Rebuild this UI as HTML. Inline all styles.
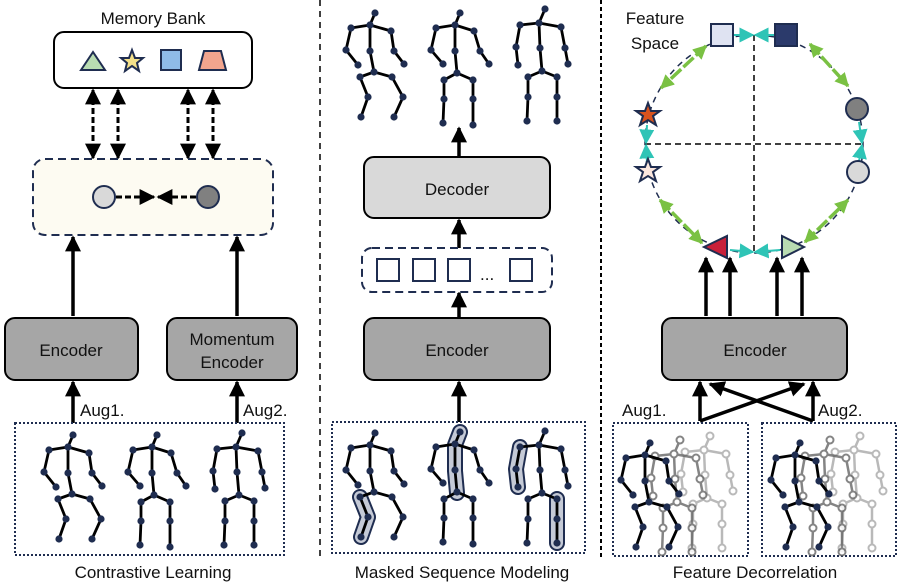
<!DOCTYPE html>
<html><head><meta charset="utf-8"><style>
html,body{margin:0;padding:0;background:#fff}
svg{display:block}
text{font-family:"Liberation Sans",sans-serif;fill:#111}
</style></head><body>
<svg width="897" height="583" viewBox="0 0 897 583" xmlns="http://www.w3.org/2000/svg">
<defs>
<marker id="ah" viewBox="0 0 10 10" refX="9" refY="5" markerWidth="16" markerHeight="16" markerUnits="userSpaceOnUse" orient="auto-start-reverse"><path d="M0,0L10,5L0,10z" fill="#000"/></marker>
<marker id="gh" viewBox="0 0 10 10" refX="9" refY="5" markerWidth="14" markerHeight="14" markerUnits="userSpaceOnUse" orient="auto-start-reverse"><path d="M0,0L10,5L0,10z" fill="#7ac143"/></marker>
<marker id="th" viewBox="0 0 10 10" refX="9" refY="5" markerWidth="15" markerHeight="15" markerUnits="userSpaceOnUse" orient="auto"><path d="M0,0L10,5L0,10z" fill="#2ec4b6"/></marker>
<g id="pA" fill="none" stroke="#000" stroke-width="2.8" stroke-linejoin="round">
<polyline points="-17,52 -29,37 -24,15 -5,12 16,18 19,38 29,51"/><polyline points="0,0 -5,12 -5,38 -1,59"/><polyline points="-14,104 -7,84 -15,64 -1,59 17,64 28,84 19,104"/>
<g fill="#1f2d50" stroke="none"><circle cx="0" cy="0" r="3.6"/><circle cx="-5" cy="12" r="3.6"/><circle cx="-24" cy="15" r="3.6"/><circle cx="16" cy="18" r="3.6"/><circle cx="-29" cy="37" r="3.6"/><circle cx="19" cy="38" r="3.6"/><circle cx="-17" cy="52" r="3.6"/><circle cx="29" cy="51" r="3.6"/><circle cx="-5" cy="38" r="3.6"/><circle cx="-1" cy="59" r="3.6"/><circle cx="-15" cy="64" r="3.6"/><circle cx="17" cy="64" r="3.6"/><circle cx="-7" cy="84" r="3.6"/><circle cx="28" cy="84" r="3.6"/><circle cx="-14" cy="104" r="3.6"/><circle cx="19" cy="104" r="3.6"/></g></g>
<g id="pB" fill="none" stroke="#000" stroke-width="2.8" stroke-linejoin="round">
<polyline points="-17,51 -29,37 -24,15 -5,12 14,18 20,38 29,51"/><polyline points="0,0 -5,12 -5,38 -3,60"/><polyline points="-17,110 -16,86 -16,67 -3,60 13,67 13,86 13,112"/>
<g fill="#1f2d50" stroke="none"><circle cx="0" cy="0" r="3.6"/><circle cx="-5" cy="12" r="3.6"/><circle cx="-24" cy="15" r="3.6"/><circle cx="14" cy="18" r="3.6"/><circle cx="-29" cy="37" r="3.6"/><circle cx="20" cy="38" r="3.6"/><circle cx="-17" cy="51" r="3.6"/><circle cx="29" cy="51" r="3.6"/><circle cx="-5" cy="38" r="3.6"/><circle cx="-3" cy="60" r="3.6"/><circle cx="-16" cy="67" r="3.6"/><circle cx="13" cy="67" r="3.6"/><circle cx="-16" cy="86" r="3.6"/><circle cx="13" cy="86" r="3.6"/><circle cx="-17" cy="110" r="3.6"/><circle cx="13" cy="112" r="3.6"/></g></g>
<g id="pC" fill="none" stroke="#000" stroke-width="2.8" stroke-linejoin="round">
<polyline points="-27,56 -29,38 -25,16 -6,14 16,18 20,39 23,55"/><polyline points="0,0 -6,14 -5,39 -3,62"/><polyline points="-18,112 -17,88 -17,68 -3,62 12,68 12,88 12,112"/>
<g fill="#1f2d50" stroke="none"><circle cx="0" cy="0" r="3.6"/><circle cx="-6" cy="14" r="3.6"/><circle cx="-25" cy="16" r="3.6"/><circle cx="16" cy="18" r="3.6"/><circle cx="-29" cy="38" r="3.6"/><circle cx="20" cy="39" r="3.6"/><circle cx="-27" cy="56" r="3.6"/><circle cx="23" cy="55" r="3.6"/><circle cx="-5" cy="39" r="3.6"/><circle cx="-3" cy="62" r="3.6"/><circle cx="-17" cy="68" r="3.6"/><circle cx="12" cy="68" r="3.6"/><circle cx="-17" cy="88" r="3.6"/><circle cx="12" cy="88" r="3.6"/><circle cx="-18" cy="112" r="3.6"/><circle cx="12" cy="112" r="3.6"/></g></g>
<g id="pG" fill="none" stroke="#666" stroke-width="2.5" stroke-linejoin="round">
<polyline points="-27,56 -29,38 -25,16 -6,14 16,18 20,39 23,55"/><polyline points="0,0 -6,14 -5,39 -3,62"/><polyline points="-18,112 -17,88 -17,68 -3,62 12,68 12,88 12,112"/>
<g fill="#fff" stroke-width="2"><circle cx="0" cy="0" r="3.5"/><circle cx="-6" cy="14" r="3.5"/><circle cx="-25" cy="16" r="3.5"/><circle cx="16" cy="18" r="3.5"/><circle cx="-29" cy="38" r="3.5"/><circle cx="20" cy="39" r="3.5"/><circle cx="-27" cy="56" r="3.5"/><circle cx="23" cy="55" r="3.5"/><circle cx="-5" cy="39" r="3.5"/><circle cx="-3" cy="62" r="3.5"/><circle cx="-17" cy="68" r="3.5"/><circle cx="12" cy="68" r="3.5"/><circle cx="-17" cy="88" r="3.5"/><circle cx="12" cy="88" r="3.5"/><circle cx="-18" cy="112" r="3.5"/><circle cx="12" cy="112" r="3.5"/></g></g>
</defs>

<line x1="320" y1="0" x2="320" y2="560" stroke="#000" stroke-width="1.5" stroke-dasharray="6,5"/>
<line x1="601" y1="0" x2="601" y2="560" stroke="#000" stroke-width="2" stroke-dasharray="4,3"/>

<text x="153" y="24" font-size="17" text-anchor="middle">Memory Bank</text>
<rect x="54" y="32" width="198" height="56" rx="10" fill="#fff" stroke="#000" stroke-width="2"/>
<polygon points="81,70 93,52 105,70" fill="#b9dcb2" stroke="#1f2d50" stroke-width="2"/>
<polygon points="132,50 135,58 143,58 137,63 139,71 132,66 125,71 127,63 121,58 129,58" fill="#f3e08a" stroke="#1f2d50" stroke-width="2"/>
<rect x="161" y="50" width="20" height="20" fill="#8fbbe8" stroke="#1f2d50" stroke-width="2"/>
<polygon points="199,70 204,51 221,51 226,70" fill="#f2a58e" stroke="#1f2d50" stroke-width="2"/>
<g stroke="#000" stroke-width="3" stroke-dasharray="6,3" marker-start="url(#ah)" marker-end="url(#ah)">
<line x1="93" y1="90" x2="93" y2="158"/><line x1="118" y1="90" x2="118" y2="158"/><line x1="188" y1="90" x2="188" y2="158"/><line x1="213" y1="90" x2="213" y2="158"/></g>
<rect x="33" y="159" width="240" height="76" rx="12" fill="#fdfbf2" stroke="#1f2d50" stroke-width="2" stroke-dasharray="8,5"/>
<g stroke="#000" stroke-width="3" stroke-dasharray="6,3" marker-end="url(#ah)"><line x1="116" y1="197" x2="154" y2="197"/><line x1="196" y1="197" x2="158" y2="197"/></g>
<circle cx="104" cy="197" r="11" fill="#d9d9d9" stroke="#1f2d50" stroke-width="2"/>
<circle cx="208" cy="197" r="11" fill="#808080" stroke="#1f2d50" stroke-width="2"/>
<g stroke="#000" stroke-width="3.5" marker-end="url(#ah)"><line x1="73" y1="316" x2="73" y2="237"/><line x1="237" y1="316" x2="237" y2="237"/>
<line x1="73" y1="423" x2="73" y2="382"/><line x1="237" y1="423" x2="237" y2="382"/></g>
<rect x="5" y="318" width="133" height="62" rx="10" fill="#a6a6a6" stroke="#000" stroke-width="2"/>
<text x="71" y="356" font-size="17" text-anchor="middle">Encoder</text>
<rect x="167" y="318" width="130" height="62" rx="10" fill="#a6a6a6" stroke="#000" stroke-width="2"/>
<text x="232" y="345" font-size="17" text-anchor="middle">Momentum</text>
<text x="232" y="368" font-size="17" text-anchor="middle">Encoder</text>
<text x="80" y="416" font-size="17">Aug1.</text>
<text x="243" y="416" font-size="17">Aug2.</text>
<rect x="15" y="423" width="269" height="132" fill="none" stroke="#1f2d50" stroke-width="2" stroke-dasharray="2,2"/>
<use href="#pA" x="73" y="435"/><use href="#pB" x="157" y="435"/><use href="#pC" x="242" y="433"/>
<text x="153" y="578" font-size="17" text-anchor="middle">Contrastive Learning</text>

<use href="#pA" x="375" y="13"/><use href="#pB" x="460" y="13"/><use href="#pC" x="545" y="9"/>
<g stroke="#000" stroke-width="3.5" marker-end="url(#ah)"><line x1="459" y1="156" x2="459" y2="128"/><line x1="459" y1="248" x2="459" y2="220"/><line x1="459" y1="317" x2="459" y2="293"/><line x1="459" y1="422" x2="459" y2="382"/></g>
<rect x="364" y="157" width="186" height="61" rx="10" fill="#d9d9d9" stroke="#000" stroke-width="2"/>
<text x="457" y="195" font-size="17" text-anchor="middle">Decoder</text>
<rect x="362" y="248" width="190" height="44" rx="10" fill="#fff" stroke="#1f2d50" stroke-width="2" stroke-dasharray="8,5"/>
<g fill="#fff" stroke="#1f2d50" stroke-width="2"><rect x="377" y="259" width="22" height="22"/><rect x="413" y="259" width="22" height="22"/><rect x="448" y="259" width="22" height="22"/><rect x="510" y="259" width="22" height="22"/></g>
<text x="480" y="280" font-size="17">...</text>
<rect x="364" y="318" width="186" height="62" rx="10" fill="#a6a6a6" stroke="#000" stroke-width="2"/>
<text x="457" y="356" font-size="17" text-anchor="middle">Encoder</text>
<rect x="332" y="422" width="253" height="131" fill="none" stroke="#1f2d50" stroke-width="2" stroke-dasharray="2,2"/>
<g fill="none" stroke-linecap="round" stroke-linejoin="round">
<polyline points="360,497 368,517 361,537" stroke="#1f2d50" stroke-width="16"/><polyline points="360,497 368,517 361,537" stroke="#c5cad6" stroke-width="12"/>
<polyline points="460,432 455,445 455,471 457,493" stroke="#1f2d50" stroke-width="16"/><polyline points="460,432 455,445 455,471 457,493" stroke="#c5cad6" stroke-width="12"/>
<polyline points="520,447 516,469 518,487" stroke="#1f2d50" stroke-width="16"/><polyline points="520,447 516,469 518,487" stroke="#c5cad6" stroke-width="12"/>
<polyline points="557,499 557,519 557,543" stroke="#1f2d50" stroke-width="16"/><polyline points="557,499 557,519 557,543" stroke="#c5cad6" stroke-width="12"/>
</g>
<use href="#pA" x="375" y="433"/><use href="#pB" x="460" y="432"/><use href="#pC" x="545" y="431"/>
<text x="462" y="578" font-size="17" text-anchor="middle">Masked Sequence Modeling</text>

<text x="655" y="24" font-size="17" text-anchor="middle">Feature</text>
<text x="655" y="49" font-size="17" text-anchor="middle">Space</text>
<circle cx="754" cy="144" r="109" fill="none" stroke="#1f2d50" stroke-width="1.5" stroke-dasharray="6,5"/>
<line x1="645" y1="144" x2="863" y2="144" stroke="#000" stroke-width="1.5" stroke-dasharray="6,4"/>
<line x1="754" y1="35" x2="754" y2="253" stroke="#000" stroke-width="1.5" stroke-dasharray="6,4"/>
<g stroke="#7ac143" stroke-width="3.5" stroke-dasharray="14,3" marker-start="url(#gh)" marker-end="url(#gh)">
<line x1="706" y1="46" x2="661" y2="88"/><line x1="810" y1="44" x2="848" y2="86"/><line x1="660" y1="200" x2="702" y2="243"/><line x1="805" y1="242" x2="848" y2="200"/></g>
<g stroke="#2ec4b6" stroke-width="2" marker-end="url(#th)">
<line x1="734" y1="35" x2="753" y2="35"/><line x1="774" y1="35" x2="755" y2="35"/>
<line x1="647" y1="125" x2="646" y2="143"/><line x1="647" y1="162" x2="646" y2="145"/>
<line x1="859" y1="122" x2="862" y2="143"/><line x1="859" y1="161" x2="862" y2="145"/>
<line x1="730" y1="250" x2="753" y2="252"/><line x1="780" y1="250" x2="755" y2="252"/></g>
<rect x="711" y="24" width="22" height="22" fill="#dfe3f2" stroke="#1f2d50" stroke-width="2"/>
<rect x="775" y="24" width="22" height="22" fill="#2b3a6b" stroke="#1f2d50" stroke-width="2"/>
<circle cx="857" cy="109" r="11" fill="#808080" stroke="#1f2d50" stroke-width="2"/>
<circle cx="858" cy="172" r="11" fill="#d9d9d9" stroke="#1f2d50" stroke-width="2"/>
<polygon points="648,103 651,111 660,111 653,116 656,125 648,120 640,125 643,116 636,111 645,111" fill="#d9531e" stroke="#1f2d50" stroke-width="2"/>
<polygon points="648,159 651,167 660,167 653,172 656,181 648,176 640,181 643,172 636,167 645,167" fill="#fbe6dd" stroke="#1f2d50" stroke-width="2"/>
<polygon points="704,247 727,236 727,258" fill="#c8203a" stroke="#1f2d50" stroke-width="2"/>
<polygon points="804,247 782,236 782,258" fill="#b9dcb2" stroke="#1f2d50" stroke-width="2"/>
<g stroke="#000" stroke-width="3.5" marker-end="url(#ah)"><line x1="706" y1="316" x2="706" y2="258"/><line x1="730" y1="316" x2="730" y2="258"/><line x1="777" y1="316" x2="777" y2="258"/><line x1="802" y1="316" x2="802" y2="258"/>
<line x1="700" y1="421" x2="700" y2="382"/><line x1="813" y1="421" x2="813" y2="382"/>
<line x1="700" y1="421" x2="804" y2="384"/><line x1="813" y1="421" x2="710" y2="384"/></g>
<rect x="662" y="318" width="185" height="62" rx="10" fill="#a6a6a6" stroke="#000" stroke-width="2"/>
<text x="755" y="356" font-size="17" text-anchor="middle">Encoder</text>
<text x="622" y="416" font-size="17">Aug1.</text>
<text x="818" y="416" font-size="17">Aug2.</text>
<rect x="613" y="423" width="135" height="133" fill="none" stroke="#1f2d50" stroke-width="2" stroke-dasharray="2,2"/>
<rect x="762" y="423" width="134" height="133" fill="none" stroke="#1f2d50" stroke-width="2" stroke-dasharray="2,2"/>
<use href="#pG" x="710" y="436" opacity="0.45"/><use href="#pG" x="680" y="440" opacity="0.8"/><use href="#pA" x="650" y="443"/>
<use href="#pG" x="860" y="436" opacity="0.45"/><use href="#pG" x="830" y="440" opacity="0.8"/><use href="#pA" x="800" y="443"/>
<text x="755" y="578" font-size="17" text-anchor="middle">Feature Decorrelation</text>
</svg>
</body></html>
